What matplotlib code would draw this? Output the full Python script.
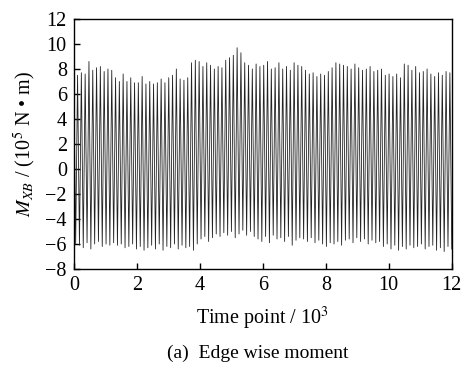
import numpy as np
import matplotlib
matplotlib.use("Agg")
import matplotlib.pyplot as plt

# Upper extremes of each oscillation cycle (10^5 N·m)
peaks = [7.6, 7.5, 7.7, 7.6, 8.6, 7.9, 8.1, 8.2, 7.8, 8.0,
         7.9, 7.3, 7.0, 7.6, 7.0, 7.3, 6.9, 6.9, 7.4, 6.8,
         7.0, 6.8, 6.9, 7.2, 6.9, 7.3, 7.5, 8.0, 7.2, 7.1,
         7.3, 8.5, 8.7, 8.6, 8.2, 8.5, 8.3, 8.0, 8.2, 8.1,
         8.7, 8.9, 9.1, 9.7, 9.3, 8.5, 8.3, 8.0, 8.4, 8.2,
         8.3, 8.6, 8.0, 8.1, 8.5, 8.0, 8.2, 7.9, 8.5, 8.3,
         8.2, 7.9, 7.6, 7.7, 7.4, 7.6, 7.5, 7.8, 8.1, 8.5,
         8.4, 8.3, 8.2, 8.0, 8.4, 8.1, 7.9, 8.0, 8.2, 7.8,
         7.9, 8.0, 7.5, 7.6, 7.4, 7.6, 7.3, 8.4, 8.3, 7.9,
         8.2, 7.7, 7.8, 8.0, 7.6, 7.4, 7.7, 7.5, 7.8, 7.7]
# Lower extremes of each cycle
troughs = [-6.0, -6.1, -6.3, -5.9, -6.4, -6.0, -5.8, -6.2, -6.0, -6.1,
           -5.9, -6.1, -6.0, -6.3, -6.2, -6.0, -6.4, -6.2, -6.5, -6.3,
           -6.1, -6.4, -6.0, -6.5, -6.2, -6.3, -6.0, -6.4, -6.1, -6.3,
           -6.2, -6.5, -6.0, -5.6, -5.4, -5.8, -5.5, -5.2, -5.4, -5.1,
           -5.3, -5.0, -5.5, -5.2, -4.9, -5.3, -5.0, -5.4, -5.6, -5.8,
           -5.4, -5.9, -5.3, -5.6, -5.5, -5.8, -5.4, -6.1, -5.7, -5.5,
           -5.6, -5.8, -5.5, -5.9, -5.7, -6.0, -6.2, -5.9, -6.0, -5.8,
           -6.1, -5.7, -5.6, -5.9, -5.5, -5.8, -5.6, -6.0, -5.7, -5.9,
           -5.8, -6.2, -6.0, -6.4, -6.1, -6.5, -6.2, -6.4, -6.1, -6.3,
           -6.2, -6.0, -6.4, -6.2, -6.1, -6.5, -6.3, -6.6, -6.2, -6.4]
total_points = 12.0  # in 10^3 time points
xticks = [0, 2, 4, 6, 8, 10, 12]
yticks = [-8, -6, -4, -2, 0, 2, 4, 6, 8, 10, 12]

# Build alternating peak/trough sequence, evenly spaced in time
n = len(peaks)
vals = np.empty(2 * n)
vals[0::2] = peaks
vals[1::2] = troughs
t = np.linspace(0, total_points, 2 * n)

plt.rcParams['font.family'] = ['Liberation Serif', 'DejaVu Serif']
plt.rcParams['mathtext.fontset'] = 'stix'

fig = plt.figure(figsize=(4.61, 3.65), dpi=100)
ax = fig.add_axes([0.160, 0.263, 0.820, 0.685])
ax.plot(t, vals, color='#222222', lw=0.6)
ax.set_xlim(0, 12)
ax.set_ylim(-8, 12)
ax.set_xticks(xticks)
ax.set_yticks(yticks)
ax.tick_params(direction='in', length=4, width=1, labelsize=14.5, pad=5)
for s in ax.spines.values():
    s.set_linewidth(1.0)
ax.set_xlabel(r"Time point / 10$^3$", fontsize=14.5, labelpad=7)
ax.set_ylabel(r"$M_{XB}$ / (10$^5$ N • m)", fontsize=14.5, labelpad=5)
fig.text(0.56, 0.033, "(a)  Edge wise moment", ha='center', va='center', fontsize=14)
fig.savefig("out.png", dpi=100)
